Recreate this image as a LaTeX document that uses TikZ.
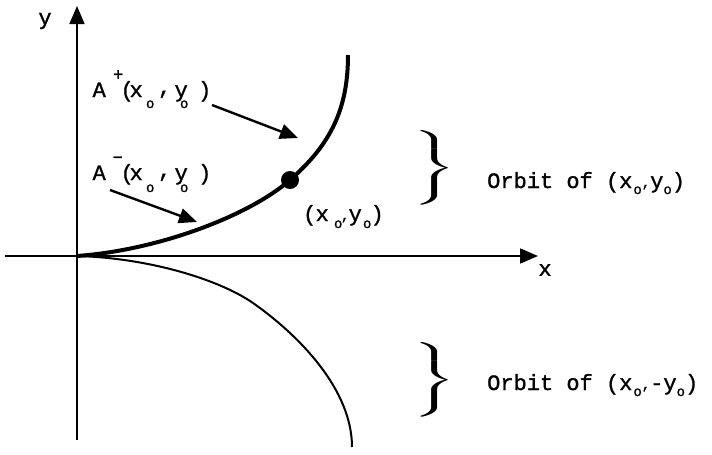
\documentclass[tikz,border=0pt]{standalone}
\usepackage{amsmath}
\usepackage{fontspec}
\setmainfont{Liberation Mono}[FakeBold=1.2]
\usetikzlibrary{arrows.meta}
\newcommand\gl[3]{\rlap{\hskip#1pt\raisebox{#2pt}{\makebox[0pt]{#3}}}}
\newcommand\smf{\fontsize{14}{14}\selectfont}
\newcommand\supf{\fontsize{17}{17}\selectfont}
\newcommand\bracebig{\fontsize{20}{24}\selectfont\scalebox{2.4}[1]{$\left.\vcenter{\hbox{\vrule height 34pt depth 34pt width 0pt}}\right\}$}}
\begin{document}
\begin{tikzpicture}[x=1pt,y=-1pt,
  axis/.style={line width=1.8pt,-{Triangle[length=18pt,width=15pt]}},
  pointer/.style={line width=2.4pt,-{Triangle[length=18pt,width=15pt]}},
  lbl/.style={inner sep=0pt,font=\fontsize{22}{24}\selectfont},
  orb/.style={inner sep=0pt,font=\fontsize{22}{24}\selectfont,anchor=base west},
  bracenode/.style={inner sep=0pt}]
\useasboundingbox (0,0) rectangle (712,455);
% axes
\coordinate (yb) at (77,440);
\coordinate (yt) at (77,6);
\coordinate (xl) at (5,256);
\coordinate (xr) at (538,256);
\coordinate (O) at (77,256);
\draw[axis] (yb) -- (yt);
\draw[axis] (xl) -- (xr);
\node[lbl] (ylab) at (45,21) {y};
\node[lbl] (xlab) at (545,270) {x};
% upper orbit
\coordinate (P0) at (290,180);
\coordinate (Ptop) at (348,55);
\draw[line width=4pt] (O) .. controls (160,250) and (250,215) .. (P0)
      .. controls (330,145) and (348,110) .. (Ptop);
% lower orbit
\coordinate (Q0) at (253,303);
\coordinate (Qbot) at (352,447);
\draw[line width=2pt] (O) .. controls (150,258) and (220,280) .. (Q0)
      .. controls (300,336) and (352,390) .. (Qbot);
% point
\node[circle,fill=black,inner sep=0pt,minimum size=18pt] (P) at (P0) {};
\node[lbl,anchor=base west] (Plab) at (305,221) {\hbox to 72pt{\gl{4.5}{0}{(}\gl{17}{0}{x}\gl{33}{-7}{\smf o}\gl{40}{1}{\smf ,}\gl{50}{0}{y}\gl{62}{-7}{\smf o}\gl{72}{0}{)}\hfil}};
% A+ label and pointer
\node[lbl,anchor=base west] (Ap) at (91,97) {\hbox to 120pt{\gl{8}{0}{A}\gl{27}{17}{\supf +}\gl{36}{0}{(}\gl{45}{0}{x}\gl{59}{-11}{\smf o}\gl{73.5}{3}{,}\gl{90}{0}{y}\gl{93}{-11}{\smf o}\gl{113.5}{0}{)}\hfil}};
\coordinate (Aps) at (212,105);
\coordinate (Ape) at (298,138);
\draw[pointer] (Aps) -- (Ape);
% A- label and pointer
\node[lbl,anchor=base west] (Am) at (91,180) {\hbox to 120pt{\gl{8}{0}{A}\gl{26.5}{17}{\supf −}\gl{36}{0}{(}\gl{45}{0}{x}\gl{59}{-12}{\smf o}\gl{73.5}{3}{,}\gl{90}{0}{y}\gl{93}{-12}{\smf o}\gl{113.5}{0}{)}\hfil}};
\coordinate (Ams) at (110,190);
\coordinate (Ame) at (197,222);
\draw[pointer] (Ams) -- (Ame);
% braces
\node[bracenode] (B1) at (433,168) {\bracebig};
\node[bracenode] (B2) at (433,380) {\bracebig};
% orbit labels
\node[orb] (T1) at (487,188) {Orbit of (x\kern1pt\raisebox{-6pt}{\smf o}\raisebox{1pt}{\smf ,}y\raisebox{-6pt}{\smf o})};
\node[orb] (T2) at (487,390) {Orbit of (x\kern1pt\raisebox{-6pt}{\smf o}\raisebox{1pt}{\smf ,}-y\raisebox{-6pt}{\smf o})};
\end{tikzpicture}
\end{document}
